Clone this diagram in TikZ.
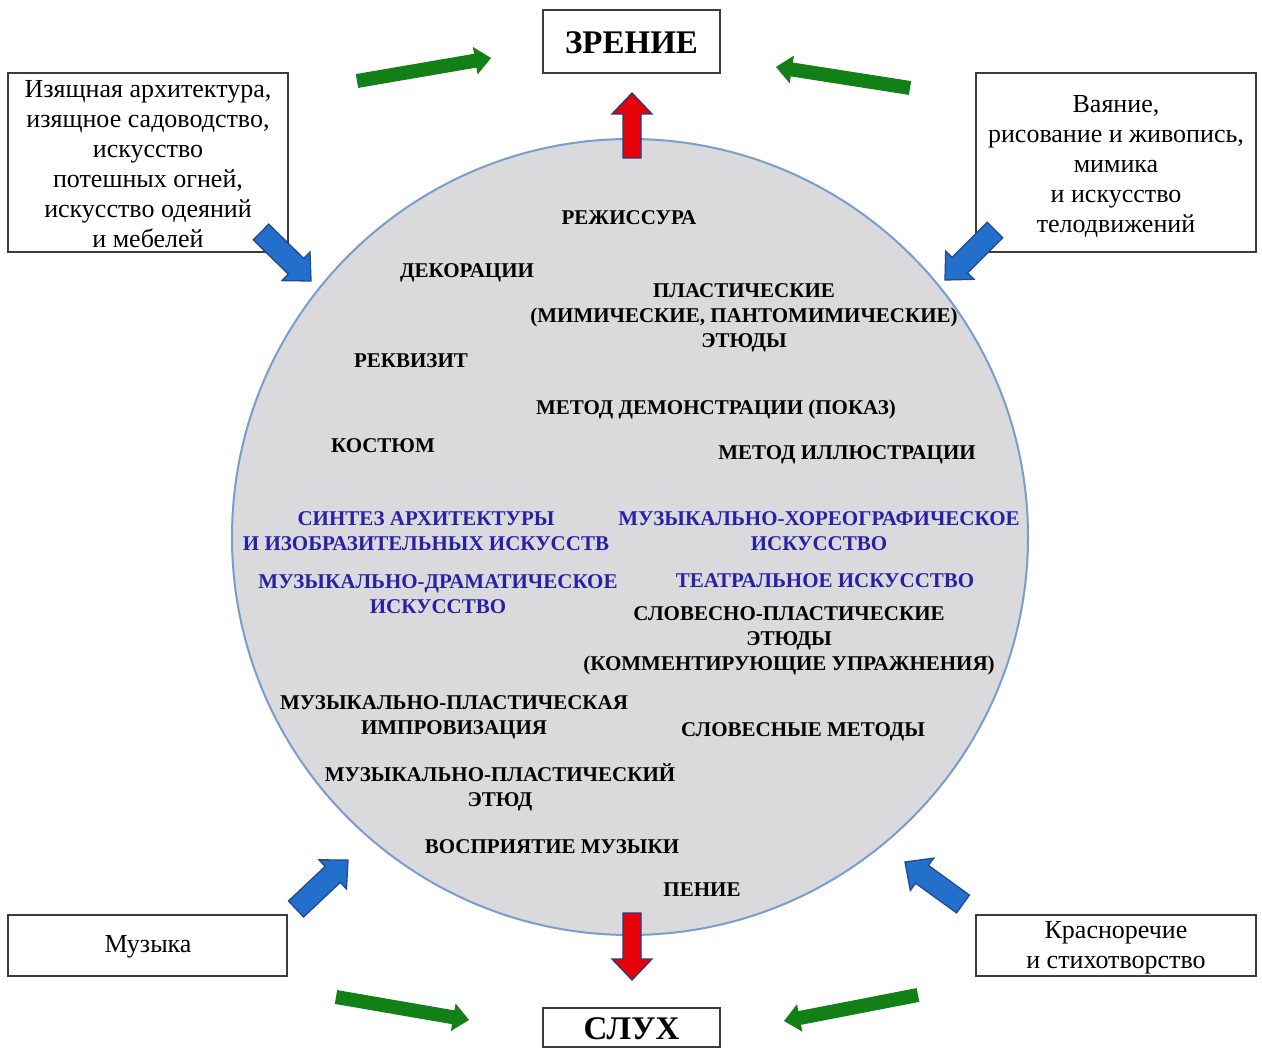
\documentclass[tikz,border=0pt]{standalone}
\usepackage{fontspec}
\setmainfont{Liberation Serif}
\usetikzlibrary{calc}

\definecolor{arrgreen}{RGB}{18,128,22}
\definecolor{arrblue}{RGB}{34,112,204}
\definecolor{arrblueedge}{RGB}{38,72,140}
\definecolor{arrred}{RGB}{230,0,10}
\definecolor{arrrededge}{RGB}{40,60,125}
\definecolor{discfill}{RGB}{218,218,220}
\definecolor{discedge}{RGB}{120,158,205}
\definecolor{artblue}{RGB}{42,32,165}
\definecolor{boxedge}{RGB}{60,60,60}

% Block arrow: #1 style, #2 tail, #3 tip, #4 half shaft width,
% #5 half head width, #6 head length
\newcommand\blockarrow[6]{%
  \coordinate (ba-h) at ($(#3)!#6!(#2)$);
  \path[#1] ($(#2)!#4!90:(#3)$) -- ($(ba-h)!#4!90:(#3)$)
    -- ($(ba-h)!#5!90:(#3)$) -- (#3) -- ($(ba-h)!#5!-90:(#3)$)
    -- ($(ba-h)!#4!-90:(#3)$) -- ($(#2)!#4!-90:(#3)$) -- cycle;}

\tikzset{
  sensebox/.style={draw=boxedge, line width=1.3pt, fill=white},
  sensetext/.style={font=\bfseries\fontsize{33}{36}\selectfont},
  artbox/.style={draw=boxedge, line width=1.1pt, fill=white},
  arttext/.style={align=center, font=\fontsize{26}{30}\selectfont},
  item/.style={align=center, inner sep=0pt, font=\bfseries\fontsize{21}{25}\selectfont},
  synth/.style={item, text=artblue},
  greenarrow/.style={fill=arrgreen},
  bluearrow/.style={fill=arrblue, draw=arrblueedge, line width=1.3pt, line join=miter},
  redarrow/.style={fill=arrred, draw=arrrededge, line width=1.3pt, line join=miter},
}

\begin{document}
\begin{tikzpicture}[x=1pt, y=-1pt]
  \useasboundingbox[fill=white] (0,0) rectangle (1262,1048);

  % the central disc
  \fill[discfill] (630,537) circle (398);
  \draw[discedge, line width=2pt] (630,537) circle (398);
  \coordinate (disc) at (630,537);

  % the two senses
  \draw[sensebox] (543,10) rectangle (720,73);
  \node[sensetext] (vision) at (631.5,43) {ЗРЕНИЕ};
  \draw[sensebox] (543,1008) rectangle (720,1047);
  \node[sensetext] (hearing) at (631.5,1029) {СЛУХ};

  % the four groups of arts
  \draw[artbox] (8,73) rectangle (288,252);
  \node[arttext] (finearts) at (148,164) {Изящная архитектура,\\изящное садоводство,\\искусство\\потешных огней,\\искусство одеяний\\и мебелей};
  \draw[artbox] (976,73) rectangle (1256,252);
  \node[arttext] (plastic) at (1116,167) {Ваяние,\\рисование и живопись,\\мимика\\и искусство\\телодвижений};
  \draw[artbox] (8,915) rectangle (287,976);
  \node[arttext] (music) at (148,947) {Музыка};
  \draw[artbox] (976,915) rectangle (1256,976);
  \node[arttext] (speech) at (1116,948) {Красноречие\\и стихотворство};

  % green arrows towards the senses
  \coordinate (g1a) at (357,81);  \coordinate (g1b) at (491,58);
  \coordinate (g2a) at (910,88);  \coordinate (g2b) at (776,67);
  \coordinate (g3a) at (336,997); \coordinate (g3b) at (469,1020);
  \coordinate (g4a) at (918,995); \coordinate (g4b) at (784,1021);
  \blockarrow{greenarrow}{g1a}{g1b}{7pt}{14pt}{16pt}
  \blockarrow{greenarrow}{g2a}{g2b}{7pt}{14pt}{16pt}
  \blockarrow{greenarrow}{g3a}{g3b}{7pt}{14pt}{16pt}
  \blockarrow{greenarrow}{g4a}{g4b}{7pt}{14pt}{16pt}

  % blue arrows into the disc
  \coordinate (b1a) at (261,232); \coordinate (b1b) at (311,281);
  \coordinate (b2a) at (995,230); \coordinate (b2b) at (945,280);
  \coordinate (b3a) at (296,909); \coordinate (b3b) at (348,860);
  \coordinate (b4a) at (963,904); \coordinate (b4b) at (905,862);
  \blockarrow{bluearrow}{b1a}{b1b}{11pt}{20pt}{21pt}
  \blockarrow{bluearrow}{b2a}{b2b}{11pt}{20pt}{21pt}
  \blockarrow{bluearrow}{b3a}{b3b}{11pt}{20pt}{21pt}
  \blockarrow{bluearrow}{b4a}{b4b}{11pt}{20pt}{21pt}

  % red arrows from the disc to the senses
  \coordinate (r1a) at (632,158); \coordinate (r1b) at (632,93);
  \coordinate (r2a) at (632,913); \coordinate (r2b) at (632,980);
  \blockarrow{redarrow}{r1a}{r1b}{9pt}{20pt}{21pt}
  \blockarrow{redarrow}{r2a}{r2b}{9pt}{20pt}{21pt}

  % contents of the disc
  \node[item] (direction) at (629,218) {РЕЖИССУРА};
  \node[item] (scenery) at (467,273) {ДЕКОРАЦИИ};
  \node[item] (plasticet) at (744,318) {ПЛАСТИЧЕСКИЕ\\(МИМИЧЕСКИЕ, ПАНТОМИМИЧЕСКИЕ)\\ЭТЮДЫ};
  \node[item] (props) at (411,361) {РЕКВИЗИТ};
  \node[item] (demo) at (716,409) {МЕТОД ДЕМОНСТРАЦИИ (ПОКАЗ)};
  \node[item] (costume) at (383,446) {КОСТЮМ};
  \node[item] (illus) at (847,455) {МЕТОД ИЛЛЮСТРАЦИИ};
  \node[synth] (synth) at (426,531) {СИНТЕЗ АРХИТЕКТУРЫ\\И ИЗОБРАЗИТЕЛЬНЫХ ИСКУССТВ};
  \node[synth] (choreo) at (819,531) {МУЗЫКАЛЬНО-ХОРЕОГРАФИЧЕСКОЕ\\ИСКУССТВО};
  \node[synth] (musdrama) at (438,594) {МУЗЫКАЛЬНО-ДРАМАТИЧЕСКОЕ\\ИСКУССТВО};
  \node[synth] (theatre) at (825,581) {ТЕАТРАЛЬНОЕ ИСКУССТВО};
  \node[item] (verbplast) at (789,641) {СЛОВЕСНО-ПЛАСТИЧЕСКИЕ\\ЭТЮДЫ\\(КОММЕНТИРУЮЩИЕ УПРАЖНЕНИЯ)};
  \node[item] (improv) at (454,717) {МУЗЫКАЛЬНО-ПЛАСТИЧЕСКАЯ\\ИМПРОВИЗАЦИЯ};
  \node[item] (verbal) at (803,732) {СЛОВЕСНЫЕ МЕТОДЫ};
  \node[item] (musetude) at (500,787) {МУЗЫКАЛЬНО-ПЛАСТИЧЕСКИЙ\\ЭТЮД};
  \node[item] (listening) at (552,847) {ВОСПРИЯТИЕ МУЗЫКИ};
  \node[item] (singing) at (702,890) {ПЕНИЕ};
\end{tikzpicture}
\end{document}
